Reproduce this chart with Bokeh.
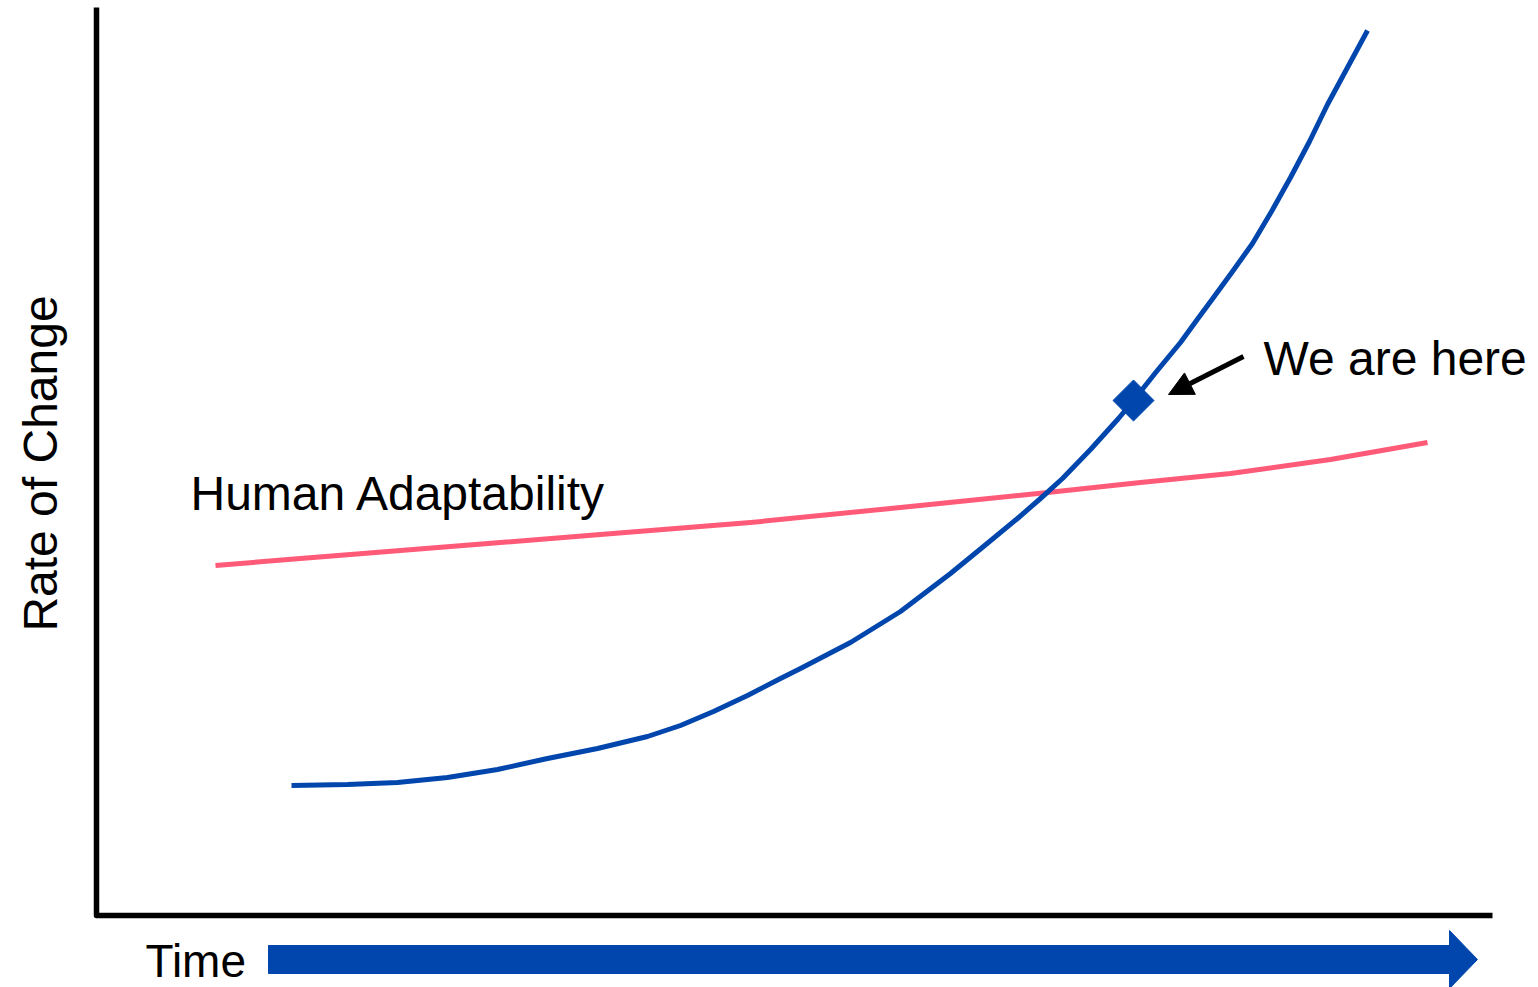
from bokeh.plotting import figure
from bokeh.models import Range1d, Arrow, NormalHead
from bokeh.core.properties import value
from bokeh.embed import file_html
from bokeh.resources import INLINE

# ---- data (time, rate of change), arbitrary units from the axis origin ----
tech_time = [195, 251, 301, 351, 401, 451, 501, 551, 584, 617, 651, 684, 704,
             754, 804, 854, 887, 921, 944, 966, 994, 1022, 1037, 1060, 1084,
             1100, 1117, 1136, 1156, 1175, 1194, 1213, 1231, 1251, 1271]
tech_rate = [130, 131, 133, 138, 146, 157, 167, 179, 190, 204, 220, 237, 247,
             273, 304, 342, 369, 397, 417, 437, 466, 497, 515, 544, 573,
             595, 618, 644, 672, 704, 738, 774, 811, 848, 885]

human_time = [119, 204, 304, 404, 504, 654, 804, 951, 1044, 1134, 1234, 1331]
human_rate = [350, 357, 365, 373, 381, 393, 408, 423, 433, 442, 456, 473]

now_time = [1037]
now_rate = [515]

label_now = "We are here"
label_human = "Human Adaptability"
label_x = "Time"
label_y = "Rate of Change"

BLUE = "#0046AD"
RED = "#FF5A78"
FONT = value("Liberation Sans")

p = figure(width=1538, height=987, output_backend="svg", toolbar_location=None,
           x_range=Range1d(-96, 1442), y_range=Range1d(-72, 915),
           min_border=0)
p.axis.visible = False
p.grid.visible = False
p.outline_line_color = None
p.background_fill_color = "white"

# axis frame
x_end = 1396
y_top = 908
p.line([0, 0, x_end], [y_top, 0, 0], line_color="black", line_width=5.5,
       line_join="round")

# curves
p.line(human_time, human_rate, line_color=RED, line_width=5, line_join="round")
p.line(tech_time, tech_rate, line_color=BLUE, line_width=5, line_join="round")
p.scatter(now_time, now_rate, marker="square", size=29, angle=0.785398,
          fill_color=BLUE, line_color=BLUE)

# "We are here" pointer
nx, ny = now_time[0], now_rate[0]
p.add_layout(Arrow(x_start=nx + 110, y_start=ny + 44, x_end=nx + 35, y_end=ny + 6,
                   line_color="black", line_width=5,
                   end=NormalHead(size=24, fill_color="black", line_color="black",
                                  line_width=1)))
p.text(x=[nx + 130], y=[ny + 42], text=[label_now], text_font=FONT,
       text_font_size="48px", text_color="black", text_baseline="alphabetic")

p.text(x=[94], y=[422], text=[label_human], text_font=FONT,
       text_font_size="48px", text_color="black", text_baseline="alphabetic")

# y label
p.text(x=[-56], y=[452], text=[label_y], angle=1.5708, text_font=FONT,
       text_font_size="48px", text_color="black", text_align="center",
       text_baseline="alphabetic")

# time arrow
p.text(x=[49], y=[-45], text=[label_x], text_font=FONT,
       text_font_size="46px", text_color="black", text_baseline="alphabetic")
bx0, bx1, tip = 172, 1353, 1381
cy, hb, hh = -44, 14, 29
p.patch([bx0, bx1, bx1, tip, bx1, bx1, bx0],
        [cy - hb, cy - hb, cy - hh, cy, cy + hh, cy + hb, cy + hb],
        fill_color=BLUE, line_color=BLUE, line_width=1)

open("out.html", "w").write(file_html(p, INLINE))
